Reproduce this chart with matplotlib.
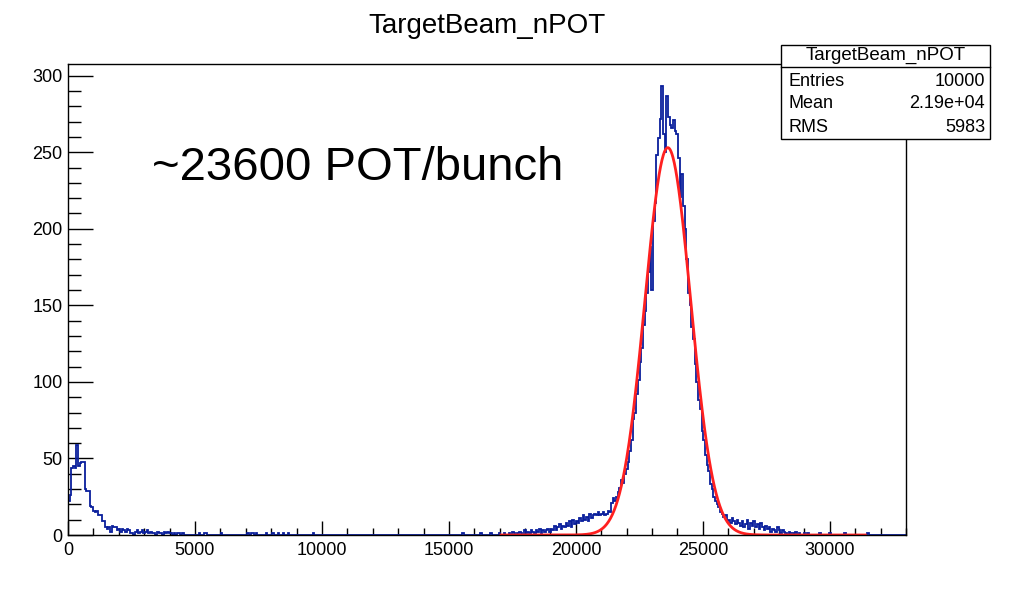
import numpy as np
import matplotlib
matplotlib.use("Agg")
import matplotlib.pyplot as plt
from matplotlib.patches import Rectangle
from matplotlib.lines import Line2D
from matplotlib.ticker import MultipleLocator

plt.rcParams['font.family'] = ['Liberation Sans', 'DejaVu Sans']

# histogram binning (ROOT TH1: 500 bins over 0..33000)
n_bins = 500
x_lo, x_hi = 0, 33000

# counts of the first bins (pedestal near zero)
low_counts = [22, 26, 44, 45, 44, 59, 45, 47, 48, 48, 30, 29, 29, 19, 18, 16, 15, 16, 13, 13,
              9, 9, 5, 4, 5, 2, 6, 5, 5, 3, 4, 2, 4, 3, 2, 4, 3, 1, 1, 0,
              2, 3, 1, 2, 3, 1, 2, 3, 1, 2, 1, 1, 0, 2, 1, 1, 0, 2, 1, 2,
              1, 1, 0, 1, 0, 1, 1, 0, 1]

# isolated single entries between pedestal and beam peak
sparse_bins = [78, 81, 82, 91, 107, 109, 110, 112, 118, 122, 125, 128, 131, 146, 235, 246, 252]

# beam peak, starting at bin 256
peak_start = 256
peak_counts = [0, 1, 0, 0, 1, 0, 0,
               1, 0, 2, 1, 0, 1, 2, 1, 0, 3,
               1, 2, 1, 3, 2, 1, 3, 2, 4, 1, 3, 2, 3, 4, 2,
               4, 3, 6, 3, 5, 7, 4, 6,
               5, 8, 6, 9, 5, 10, 7, 9,
               8, 11, 9, 13, 10, 12, 9, 14, 11, 13,
               14, 13, 15, 13, 14, 15, 13, 14, 16, 15,
               21, 24, 22, 25,
               28, 31, 36, 34, 40, 43,
               48, 55, 62, 76, 80, 92, 101, 113, 122, 137, 146,
               158, 172, 188, 160, 205, 217, 248, 259, 272, 293, 262, 250,
               287, 273, 268, 266, 271, 264, 262, 246, 221, 236, 215, 200,
               180, 158, 150, 136, 128, 112, 100, 88, 82, 68, 62, 52,
               46, 42, 33, 30, 25, 22, 20, 18, 15, 14, 12, 13, 9, 10, 8, 11,
               9, 7, 10, 8, 6, 9, 5, 7, 10, 4, 8, 6, 9, 5, 7, 4, 8, 5, 3, 6,
               4, 5, 2, 4, 3, 2, 5, 3, 1, 3, 2, 1, 0, 2, 1, 1, 0, 2, 0, 1,
               0, 0, 1, 0, 1,
               0, 0, 0, 0, 0, 0, 1, 0, 0, 0, 0, 0, 1, 0, 0, 0, 0, 0, 0, 0,
               0, 1, 0, 0, 0, 0, 0, 0, 0, 0, 0, 0, 0, 0, 0, 1]

# gaussian fit result
fit_const = 253.0
fit_mean = 23620.0
fit_sigma = 900.0
fit_range = (17050, 31400)

stats_rows = [("Entries", "10000"), ("Mean", "2.19e+04"), ("RMS", "5983")]
hist_name = "TargetBeam_nPOT"

counts = np.zeros(n_bins)
counts[:len(low_counts)] = low_counts
for b in sparse_bins:
    counts[b] = 1
counts[peak_start:peak_start + len(peak_counts)] = peak_counts
edges = np.linspace(x_lo, x_hi, n_bins + 1)

W, H = 1012, 589
fig = plt.figure(figsize=(W / 100, H / 100), dpi=100)
ax = fig.add_axes([68 / W, (H - 535) / H, (906 - 68) / W, (535 - 64) / H])

ax.stairs(counts, edges, color='#0a1f9c', lw=1.3, zorder=2)
xf = np.linspace(fit_range[0], fit_range[1], 800)
yf = fit_const * np.exp(-0.5 * ((xf - fit_mean) / fit_sigma) ** 2)
ax.plot(xf, yf, color='#ff2020', lw=2.0, zorder=3)

ax.set_xlim(x_lo, x_hi)
ax.set_ylim(0, 1.05 * counts.max())

ax.xaxis.set_major_locator(MultipleLocator(5000))
ax.xaxis.set_minor_locator(MultipleLocator(1000))
ax.yaxis.set_major_locator(MultipleLocator(50))
ax.yaxis.set_minor_locator(MultipleLocator(10))
ax.tick_params(which='both', direction='in', top=False, right=False, width=1, labelsize=13)
ax.tick_params(axis='x', which='major', length=10, pad=5)
ax.tick_params(axis='x', which='minor', length=5)
ax.tick_params(axis='y', which='major', length=18, pad=4)
ax.tick_params(axis='y', which='minor', length=9)
for s in ax.spines.values():
    s.set_linewidth(1.0)
    s.set_zorder(4)

def fx(px):
    return px / W

def fy(py):
    return 1 - py / H

# title
fig.text(fx(487), fy(26), hist_name, ha='center', va='center', fontsize=20)

# annotation
fig.text(fx(152), fy(168), "~23600 POT/bunch", ha='left', va='center', fontsize=34)

# stats box
bx0, bx1, by0, by1 = 781, 990, 45, 139
fig.patches.append(Rectangle((fx(bx0), fy(by1)), fx(bx1) - fx(bx0), fy(by0) - fy(by1),
                             transform=fig.transFigure, facecolor='white',
                             edgecolor='black', lw=1.0, zorder=10))
fig.lines.append(Line2D([fx(bx0), fx(bx1)], [fy(67), fy(67)],
                        transform=fig.transFigure, color='black', lw=1.0, zorder=11))
fig.text(fx((bx0 + bx1) / 2), fy(55), hist_name, ha='center', va='center', fontsize=13.5, zorder=12)
for i, (k, v) in enumerate(stats_rows):
    yy = 81 + 23 * i
    fig.text(fx(789), fy(yy), k, ha='left', va='center', fontsize=13, zorder=12)
    fig.text(fx(985), fy(yy), v, ha='right', va='center', fontsize=13, zorder=12)

fig.savefig("out.png", dpi=100)
